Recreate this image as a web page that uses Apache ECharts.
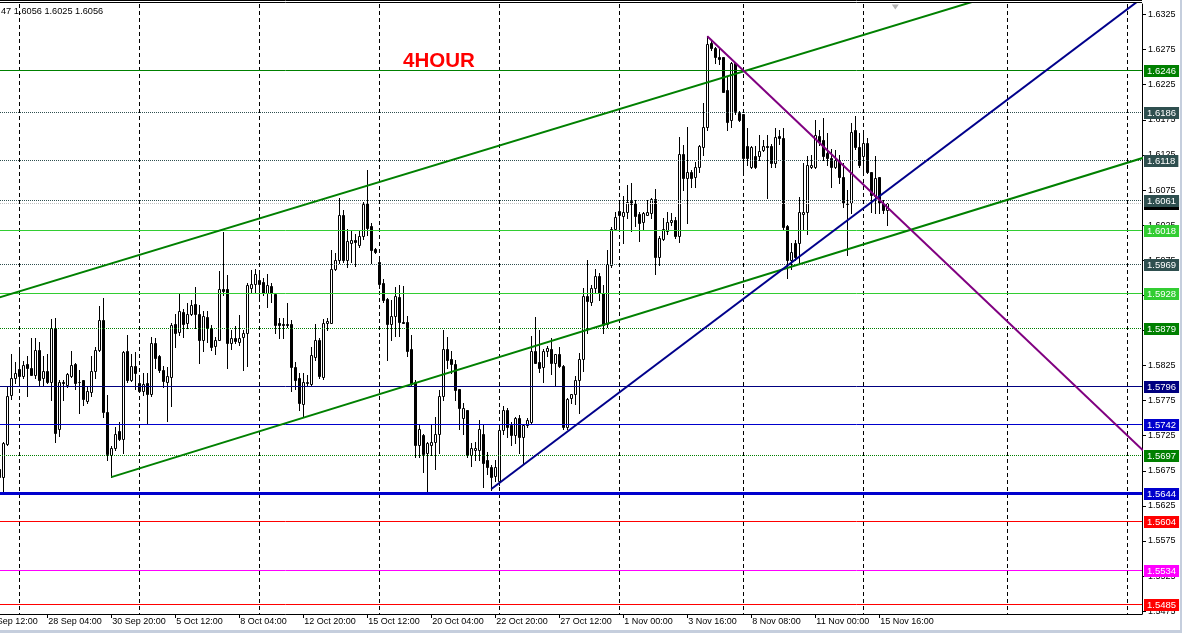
<!DOCTYPE html>
<html>
<head>
<meta charset="utf-8">
<script src="https://cdn.jsdelivr.net/npm/echarts@6/dist/echarts.min.js"></script>
<style>
html,body{margin:0;padding:0;background:#fff;}
#chart{width:1182px;height:633px;}
</style>
</head>
<body>
<div id="chart"></div>
<script>
// ---- Data (GBPUSD H4) ----
const opens = [1.5678,1.5666,1.5713,1.5783,1.5807,1.5820,1.5810,1.5827,1.5821,1.5811,1.5847,1.5807,1.5817,1.5801,1.5879,1.5734,1.5801,1.5797,1.5810,1.5827,1.5802,1.5804,1.5775,1.5787,1.5817,1.5847,1.5890,1.5759,1.5697,1.5707,1.5731,1.5720,1.5846,1.5804,1.5825,1.5800,1.5788,1.5800,1.5785,1.5857,1.5838,1.5819,1.5802,1.5809,1.5884,1.5873,1.5901,1.5885,1.5898,1.5913,1.5898,1.5862,1.5894,1.5879,1.5853,1.5862,1.5934,
1.5934,1.5857,1.5864,1.5859,1.5865,1.5872,1.5936,1.5941,1.5947,1.5944,1.5929,1.5938,1.5927,1.5885,1.5884,1.5884,1.5884,1.5823,1.5807,1.5770,1.5800,1.5799,1.5837,1.5861,1.5809,1.5886,1.5886,1.5963,1.5975,1.6039,1.5975,1.6000,1.6004,1.5997,1.6009,1.6056,1.6024,1.5991,1.5973,1.5943,1.5920,1.5884,1.5895,1.5923,1.5887,1.5887,1.5848,1.5802,1.5712,1.5726,1.5700,1.5712,1.5716,1.5728,1.5782,1.5849,
1.5834,1.5827,1.5791,1.5750,1.5762,1.5697,1.5704,1.5704,1.5728,1.5690,1.5680,1.5667,1.5661,1.5733,1.5762,1.5740,1.5726,1.5750,1.5723,1.5740,1.5745,1.5845,1.5830,1.5823,1.5846,1.5848,1.5829,1.5841,1.5824,1.5738,1.5778,1.5784,1.5804,1.5834,1.5924,1.5916,1.5936,1.5953,1.5929,1.5884,1.5968,1.6020,1.6045,1.6038,1.6044,1.6059,1.6057,1.6041,1.6029,1.6040,1.6042,1.6062,1.5979,1.6005,1.6016,1.6029,
1.6032,1.6009,1.6127,1.6092,1.6101,1.6094,1.6108,1.6136,1.6165,1.6284,1.6277,1.6265,1.6264,1.6218,1.6175,1.6256,1.6185,1.6183,1.6137,1.6108,1.6123,1.6123,1.6132,1.6137,1.6137,1.6113,1.6152,1.6149,1.6024,1.5975,1.5999,1.5999,1.6041,1.6043,1.6108,1.6108,1.6152,1.6146,1.6128,1.6120,1.6108,1.6116,1.6094,1.6057,1.6056,1.6160,1.6136,1.6123,1.6142,1.6101,1.6066,1.6093,1.6056,1.6047];
const highs = [1.5681,1.5716,1.5795,1.5841,1.5830,1.5847,1.5832,1.5838,1.5864,1.5864,1.5859,1.5838,1.5842,1.5891,1.5892,1.5804,1.5804,1.5815,1.5845,1.5828,1.5819,1.5805,1.5795,1.5838,1.5852,1.5910,1.5921,1.5783,1.5711,1.5738,1.5745,1.5845,1.5869,1.5842,1.5844,1.5809,1.5814,1.5814,1.5866,1.5864,1.5840,1.5824,1.5823,1.5885,1.5898,1.5928,1.5906,1.5914,1.5919,1.5937,1.5911,1.5902,1.5902,1.5883,1.5866,1.5959,1.6015,
1.5954,1.5876,1.5881,1.5897,1.5876,1.5942,1.5961,1.5962,1.5956,1.5949,1.5956,1.5942,1.5928,1.5892,1.5893,1.5914,1.5890,1.5830,1.5814,1.5814,1.5811,1.5852,1.5884,1.5864,1.5891,1.5892,1.5989,1.5985,1.6063,1.6047,1.6020,1.6016,1.6013,1.6018,1.6058,1.6104,1.6028,1.5992,1.5975,1.5948,1.5921,1.5918,1.5937,1.5940,1.5938,1.5895,1.5868,1.5804,1.5740,1.5728,1.5716,1.5742,1.5751,1.5790,1.5875,1.5866,
1.5845,1.5833,1.5792,1.5771,1.5762,1.5714,1.5716,1.5747,1.5742,1.5702,1.5683,1.5691,1.5738,1.5767,1.5764,1.5745,1.5752,1.5754,1.5742,1.5750,1.5867,1.5894,1.5876,1.5849,1.5853,1.5864,1.5842,1.5851,1.5826,1.5778,1.5785,1.5810,1.5843,1.5936,1.5975,1.5940,1.5963,1.5957,1.5940,1.5990,1.6023,1.6043,1.6058,1.6066,1.6082,1.6085,1.6061,1.6044,1.6043,1.6061,1.6063,1.6076,1.6010,1.6035,1.6043,1.6042,
1.6037,1.6151,1.6139,1.6165,1.6104,1.6115,1.6139,1.6199,1.6294,1.6289,1.6279,1.6278,1.6265,1.6237,1.6258,1.6258,1.6187,1.6184,1.6163,1.6137,1.6137,1.6153,1.6146,1.6153,1.6141,1.6163,1.6161,1.6163,1.6025,1.5999,1.6004,1.6065,1.6113,1.6123,1.6125,1.6175,1.6161,1.6177,1.6156,1.6134,1.6132,1.6125,1.6113,1.6075,1.6170,1.6180,1.6156,1.6156,1.6149,1.6101,1.6123,1.6094,1.6061,1.6056];
const lows = [1.5664,1.5645,1.5712,1.5777,1.5800,1.5800,1.5807,1.5782,1.5811,1.5807,1.5797,1.5797,1.5800,1.5776,1.5716,1.5724,1.5776,1.5794,1.5809,1.5792,1.5757,1.5769,1.5771,1.5781,1.5807,1.5845,1.5752,1.5690,1.5666,1.5704,1.5719,1.5700,1.5802,1.5803,1.5792,1.5788,1.5783,1.5743,1.5781,1.5821,1.5816,1.5795,1.5746,1.5768,1.5852,1.5868,1.5866,1.5878,1.5897,1.5879,1.5829,1.5845,1.5859,1.5847,1.5842,1.5861,1.5925,
1.5822,1.5849,1.5857,1.5854,1.5818,1.5825,1.5928,1.5928,1.5921,1.5925,1.5909,1.5916,1.5872,1.5864,1.5864,1.5880,1.5789,1.5792,1.5762,1.5752,1.5797,1.5797,1.5833,1.5807,1.5806,1.5876,1.5885,1.5961,1.5971,1.5973,1.5966,1.5973,1.5967,1.5994,1.6005,1.6011,1.5971,1.5985,1.5936,1.5915,1.5833,1.5861,1.5867,1.5867,1.5885,1.5838,1.5797,1.5694,1.5694,1.5674,1.5645,1.5697,1.5678,1.5700,1.5776,1.5821,
1.5814,1.5776,1.5735,1.5728,1.5695,1.5682,1.5690,1.5690,1.5652,1.5671,1.5648,1.5661,1.5655,1.5728,1.5723,1.5712,1.5714,1.5700,1.5686,1.5738,1.5742,1.5828,1.5816,1.5802,1.5838,1.5813,1.5797,1.5823,1.5735,1.5735,1.5771,1.5770,1.5758,1.5817,1.5871,1.5911,1.5928,1.5918,1.5872,1.5880,1.5966,1.6019,1.6018,1.6000,1.6035,1.6016,1.6024,1.6003,1.6020,1.6039,1.6035,1.5956,1.5968,1.6004,1.6013,1.6025,
1.6006,1.6001,1.6075,1.6028,1.6080,1.6080,1.6101,1.6125,1.6161,1.6275,1.6256,1.6255,1.6215,1.6161,1.6165,1.6184,1.6174,1.6099,1.6111,1.6106,1.6107,1.6118,1.6130,1.6063,1.6108,1.6108,1.6141,1.6019,1.5949,1.5963,1.5975,1.5971,1.6018,1.6012,1.6107,1.6106,1.6139,1.6118,1.6111,1.6080,1.6106,1.6085,1.6051,1.5982,1.6042,1.6134,1.6108,1.6099,1.6099,1.6044,1.6042,1.6042,1.6042,1.6025];
const closes = [1.5666,1.5714,1.5782,1.5807,1.5814,1.5810,1.5826,1.5822,1.5812,1.5847,1.5805,1.5817,1.5801,1.5879,1.5729,1.5802,1.5800,1.5813,1.5826,1.5800,1.5802,1.5777,1.5789,1.5817,1.5847,1.5890,1.5759,1.5699,1.5707,1.5728,1.5720,1.5844,1.5805,1.5824,1.5815,1.5789,1.5799,1.5784,1.5857,1.5835,1.5818,1.5803,1.5810,1.5883,1.5872,1.5903,1.5884,1.5898,1.5911,1.5898,1.5862,1.5896,1.5879,1.5852,1.5861,1.5934,1.5931,
1.5857,1.5864,1.5860,1.5864,1.5872,1.5940,1.5941,1.5956,1.5941,1.5929,1.5940,1.5929,1.5883,1.5882,1.5883,1.5882,1.5823,1.5805,1.5771,1.5801,1.5802,1.5840,1.5862,1.5810,1.5886,1.5889,1.5963,1.5975,1.6040,1.5976,1.6002,1.6004,1.6001,1.6009,1.6055,1.6021,1.5989,1.5986,1.5941,1.5918,1.5884,1.5895,1.5924,1.5887,1.5886,1.5846,1.5799,1.5712,1.5735,1.5699,1.5714,1.5716,1.5728,1.5782,1.5849,1.5833,
1.5827,1.5790,1.5765,1.5765,1.5697,1.5707,1.5708,1.5734,1.5686,1.5680,1.5666,1.5680,1.5733,1.5762,1.5738,1.5726,1.5750,1.5723,1.5740,1.5748,1.5845,1.5829,1.5822,1.5846,1.5850,1.5829,1.5841,1.5824,1.5738,1.5777,1.5784,1.5804,1.5834,1.5924,1.5917,1.5936,1.5953,1.5929,1.5882,1.5969,1.6020,1.6036,1.6040,1.6043,1.6058,1.6055,1.6038,1.6028,1.6042,1.6044,1.6062,1.5980,1.6006,1.6020,1.6029,1.6032,
1.6009,1.6126,1.6092,1.6101,1.6092,1.6108,1.6137,1.6165,1.6283,1.6278,1.6264,1.6261,1.6215,1.6172,1.6256,1.6187,1.6175,1.6120,1.6120,1.6136,1.6108,1.6131,1.6137,1.6136,1.6113,1.6150,1.6149,1.6023,1.5975,1.5986,1.5980,1.6043,1.6043,1.6111,1.6111,1.6153,1.6144,1.6123,1.6120,1.6108,1.6118,1.6094,1.6056,1.6055,1.6157,1.6136,1.6111,1.6142,1.6100,1.6068,1.6092,1.6056,1.6047,1.6056];

// time-axis tick labels (bar index of each label)
const xTickBars = [12,28,44,60,76,92,108,124,140,156,172,188,204,220];
const xTickLabels = ['28 Sep 04:00','30 Sep 20:00','5 Oct 12:00','8 Oct 04:00','12 Oct 20:00','15 Oct 12:00','20 Oct 04:00','22 Oct 20:00','27 Oct 12:00','1 Nov 00:00','3 Nov 16:00','8 Nov 08:00','11 Nov 00:00','15 Nov 16:00'];
const firstPartialLabel = '24 Sep 12:00';
// price-axis tick labels
const yTicks = [1.5475,1.5525,1.5575,1.5625,1.5675,1.5725,1.5775,1.5825,1.5875,1.5925,1.5975,1.6025,1.6075,1.6125,1.6175,1.6225,1.6275,1.6325];
// horizontal support / resistance levels
const levels = [1.6246,1.6186,1.6118,1.6061,1.6018,1.5969,1.5928,1.5879,1.5796,1.5742,1.5697,1.5644,1.5604,1.5534,1.5485];
const bidPrice = 1.6056;
// weekly period separators (bar indices)
const gridBars = [5,35,65,95,125,155,186,216,252,282];
// trend lines [barIndex, price]
const upperChannel = [[0,1.5922],[260,1.6372]];
const lowerChannel = [[28,1.5666],[290,1.6128]];
const blueTrend = [[123,1.5649],[290,1.6367]];
const purpleTrend = [[177,1.6294],[290,1.5682]];
const shiftMarkBar = 224;
const titleText = '4HOUR';
const infoText = '47 1.6056 1.6025 1.6056';

// ---- styles ----
const X_MIN = 0.175, X_MAX = 285.675, Y_MIN = 1.5471, Y_MAX = 1.6340;
const bidStyle = {c:'#C0C0C0', w:1, dot:true, bg:'#000000'};
const levelStyles = [
  {c:'#008000',w:1,dot:false},
  {c:'#2F4F4F',w:1,dot:true},
  {c:'#2F4F4F',w:1,dot:true},
  {c:'#2F4F4F',w:1,dot:true},
  {c:'#32CD32',w:1,dot:false},
  {c:'#2F4F4F',w:1,dot:true},
  {c:'#32CD32',w:1,dot:false},
  {c:'#008000',w:1,dot:true},
  {c:'#000080',w:1,dot:false},
  {c:'#0000CD',w:1,dot:false},
  {c:'#008000',w:1,dot:true},
  {c:'#0000CD',w:3,dot:false},
  {c:'#FF0000',w:1,dot:false},
  {c:'#FF00FF',w:1,dot:false},
  {c:'#FF0000',w:1,dot:false}
];
const FONT = '"Liberation Sans", Arial, sans-serif';

const candleData = opens.map((o,i)=>[i,o,closes[i],lows[i],highs[i]]);
const levelData = [[bidPrice,-1]].concat(levels.map((v,k)=>[v,k]));
const gridData = gridBars.map(b=>[b]);

function renderCandle(params, api){
  const i = api.value(0);
  const o = api.coord([i, api.value(1)]);
  const c = api.coord([i, api.value(2)]);
  const l = api.coord([i, api.value(3)]);
  const h = api.coord([i, api.value(4)]);
  const X = Math.round(o[0]);
  const yTop = Math.round(Math.min(o[1], c[1]));
  const yBot = Math.round(Math.max(o[1], c[1]));
  const bull = api.value(2) > api.value(1);
  return {type:'group', children:[
    {type:'line', shape:{x1:X+0.5,y1:Math.round(h[1]),x2:X+0.5,y2:Math.round(l[1])+1}, style:{stroke:'#000',lineWidth:1}},
    {type:'rect', shape:{x:X-0.5,y:yTop+0.5,width:2,height:Math.max(yBot-yTop,0)}, style:{fill: bull?'#fff':'#000', stroke:'#000', lineWidth:1}}
  ]};
}

function renderLevel(params, api){
  const v = api.value(0), k = api.value(1);
  const s = k < 0 ? bidStyle : levelStyles[k];
  const cs = params.coordSys;
  const Y = Math.round(api.coord([X_MIN, v])[1]);
  const x2 = cs.x + cs.width;
  return {type:'group', children:[
    {type:'line', shape:{x1:cs.x, y1:Y+0.5, x2:x2, y2:Y+0.5},
      style:{stroke:s.c, lineWidth:s.w, lineDash: s.dot ? [1,1] : null}},
    {type:'text', x:x2+2, y:Y+1, style:{text:v.toFixed(4), fill:'#fff', backgroundColor: s.bg || s.c,
      font:'9.5px "Liberation Sans", Arial, sans-serif', padding:[1,3,0,3], lineHeight:11,
      align:'left', verticalAlign:'middle'}}
  ]};
}

function renderGrid(params, api){
  const cs = params.coordSys;
  const X = Math.round(api.coord([api.value(0), Y_MIN])[0]);
  return {type:'line', shape:{x1:X+0.5, y1:cs.y, x2:X+0.5, y2:cs.y+cs.height},
    style:{stroke:'#000', lineWidth:1, lineDash:[4,3]}};
}

const chart = echarts.init(document.getElementById('chart'), null, {renderer:'canvas'});
chart.setOption({
  animation:false,
  backgroundColor:'#ffffff',
  grid:{left:0, right:40, top:4, bottom:19, containLabel:false},
  xAxis:{
    type:'value', min:X_MIN, max:X_MAX,
    axisLine:{show:true, lineStyle:{color:'#000',width:1}},
    axisTick:{show:true, customValues:xTickBars, length:4, lineStyle:{color:'#000'}},
    axisLabel:{show:true, customValues:xTickBars, margin:3, align:'left', color:'#000',
      fontFamily:FONT, fontSize:9, padding:[0,0,0,1],
      formatter:(v)=>{const k=xTickBars.indexOf(Math.round(v)); return k>=0?xTickLabels[k]:'';}},
    splitLine:{show:false}
  },
  yAxis:{
    type:'value', position:'right', min:Y_MIN, max:Y_MAX, scale:true,
    axisLine:{show:true, lineStyle:{color:'#000',width:1}},
    axisTick:{show:true, customValues:yTicks, length:4, inside:false, lineStyle:{color:'#000'}},
    axisLabel:{show:true, customValues:yTicks, margin:6, color:'#000', fontFamily:FONT, fontSize:9,
      formatter:(v)=>v.toFixed(4)},
    splitLine:{show:false}
  },
  series:[
    {type:'custom', name:'grid', renderItem:renderGrid, data:gridData, clip:true, silent:true, z:1, encode:{x:0}},
    {type:'custom', name:'GBPUSD', renderItem:renderCandle, data:candleData, clip:true, z:2, encode:{x:0, y:[1,2,3,4]}},
    {type:'custom', name:'levels', renderItem:renderLevel, data:levelData, clip:false, silent:true, z:3, encode:{y:0}},
    {type:'line', data:upperChannel, showSymbol:false, clip:true, silent:true, z:4, lineStyle:{color:'#008000',width:2}},
    {type:'line', data:lowerChannel, showSymbol:false, clip:true, silent:true, z:4, lineStyle:{color:'#008000',width:2}},
    {type:'line', data:blueTrend, showSymbol:false, clip:true, silent:true, z:4, lineStyle:{color:'#00008B',width:2}},
    {type:'line', data:purpleTrend, showSymbol:false, clip:true, silent:true, z:4, lineStyle:{color:'#800080',width:2}},
    {type:'scatter', data:[[shiftMarkBar, Y_MAX]], symbol:'triangle', symbolRotate:180, symbolSize:[7,5], symbolOffset:[0,3],
      itemStyle:{color:'#A0A0A0'}, silent:true, clip:false, z:5}
  ],
  graphic:[
    {type:'line', shape:{x1:0,y1:0.5,x2:1142,y2:0.5}, style:{stroke:'#000',lineWidth:1}},
    {type:'line', shape:{x1:0,y1:2.5,x2:1142,y2:2.5}, style:{stroke:'#000',lineWidth:1}},
    {type:'text', x:1, y:7, style:{text:infoText, font:'9.2px "Liberation Sans", Arial, sans-serif', fill:'#000'}},
    {type:'text', x:403, y:51, style:{text:titleText, font:'bold 20.5px "Liberation Sans", Arial, sans-serif', fill:'#FF0000'}},
    {type:'text', x:-15.7, y:617, style:{text:firstPartialLabel, font:'9px "Liberation Sans", Arial, sans-serif', fill:'#000'}},
    {type:'rect', shape:{x:0,y:630,width:1182,height:3}, style:{fill:'#C5CEDD'}},
    {type:'rect', shape:{x:1180,y:0,width:2,height:633}, style:{fill:'#C5CEDD'}}
  ]
});
</script>
</body>
</html>
